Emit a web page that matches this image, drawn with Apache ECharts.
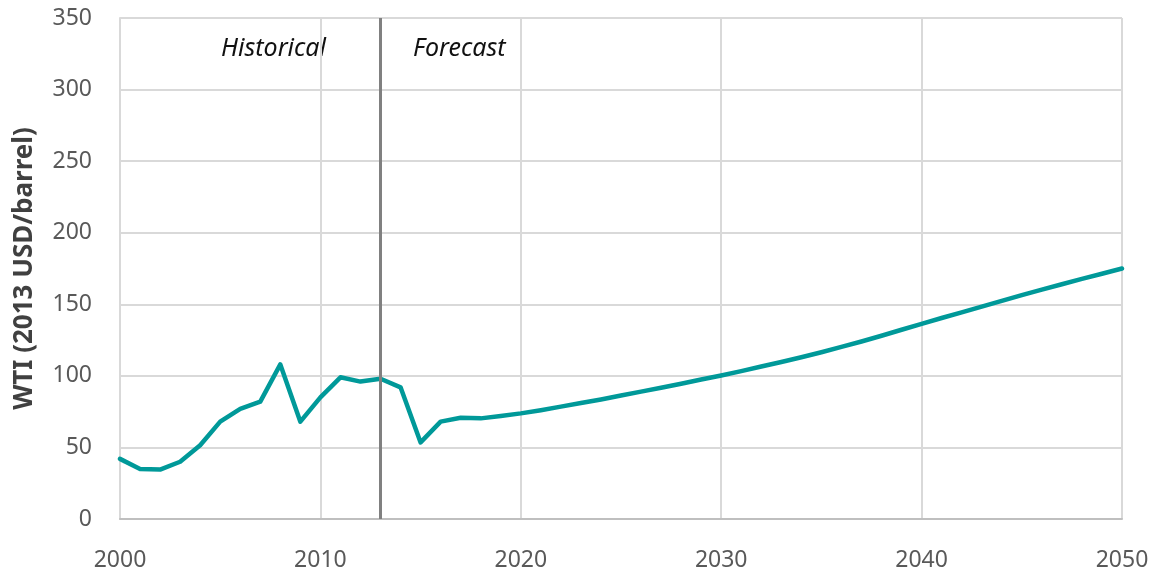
<!DOCTYPE html>
<html>
<head>
<meta charset="utf-8">
<script src="https://cdn.jsdelivr.net/npm/echarts@6/dist/echarts.min.js"></script>
<style>
html,body{margin:0;padding:0;background:#fff;}
#chart{width:1163px;height:573px;}
</style>
</head>
<body>
<div id="chart"></div>
<script>
var years = [2000,2001,2002,2003,2004,2005,2006,2007,2008,2009,2010,2011,2012,2013,2014,2015,2016,2017,2018,2019,
  2020,2021,2022,2023,2024,2025,2026,2027,2028,2029,
  2030,2031,2032,2033,2034,2035,2036,2037,2038,2039,
  2040,2041,2042,2043,2044,2045,2046,2047,2048,2049,2050];
var wti = [42,35,34.5,40,51.5,68,77,82,108,68,85,99,96,98,92,53.5,68,70.7,70.3,72,
  73.8,76,78.5,81,83.5,86.3,89,91.7,94.5,97.5,
  100.3,103.3,106.5,109.7,113,116.5,120.2,124,128,132.2,
  136.3,140.4,144.4,148.4,152.4,156.4,160.2,164,167.7,171.3,175];
var yTicks = {min:0, max:350, interval:50};
var xTicks = {min:2000, max:2050, interval:10};
var splitYear = 2013;
var labelHist = 'Historical';
var labelFore = 'Forecast';
var yTitle = 'WTI (2013 USD/barrel)';

var data = years.map(function(y,i){return [y, wti[i]];});
var chart = echarts.init(document.getElementById('chart'));
var fam = '"Noto Sans", "Open Sans", sans-serif';
chart.setOption({
  animation:false,
  backgroundColor:'#fff',
  grid:{left:120, right:41, top:18, bottom:54, containLabel:false},
  xAxis:{
    type:'value', min:xTicks.min, max:xTicks.max, interval:xTicks.interval,
    axisLine:{show:true, lineStyle:{color:'#bfbfbf', width:2}},
    axisTick:{show:false},
    splitLine:{show:true, lineStyle:{color:'#d9d9d9', width:2}},
    axisLabel:{color:'#595959', fontSize:23, fontFamily:fam, margin:30,
      formatter:function(v){return String(v);}}
  },
  yAxis:{
    type:'value', min:yTicks.min, max:yTicks.max, interval:yTicks.interval,
    name:yTitle, nameLocation:'middle', nameGap:82, nameRotate:90,
    nameTextStyle:{color:'#404040', fontSize:26, fontWeight:'bold', fontFamily:fam},
    axisLine:{show:true, lineStyle:{color:'#d9d9d9', width:2}},
    axisTick:{show:false},
    splitLine:{show:true, lineStyle:{color:'#d9d9d9', width:2}},
    axisLabel:{color:'#595959', fontSize:23, fontFamily:fam, margin:28}
  },
  series:[{
    type:'line', data:data, showSymbol:false, symbol:'none',
    lineStyle:{color:'#009999', width:4.5, cap:'round', join:'round'},
    markLine:{
      silent:true, symbol:'none', label:{show:false},
      lineStyle:{color:'#808080', width:3, type:'solid'},
      data:[{xAxis:splitYear}]
    },
    z:3
  }],
  graphic:[
    {type:'text', left:221, top:36, style:{text:labelHist, fontSize:25, fontStyle:'italic', fontFamily:fam, fill:'#111'}},
    {type:'text', left:413, top:36, style:{text:labelFore, fontSize:25, fontStyle:'italic', fontFamily:fam, fill:'#111'}}
  ]
});
</script>
</body>
</html>
